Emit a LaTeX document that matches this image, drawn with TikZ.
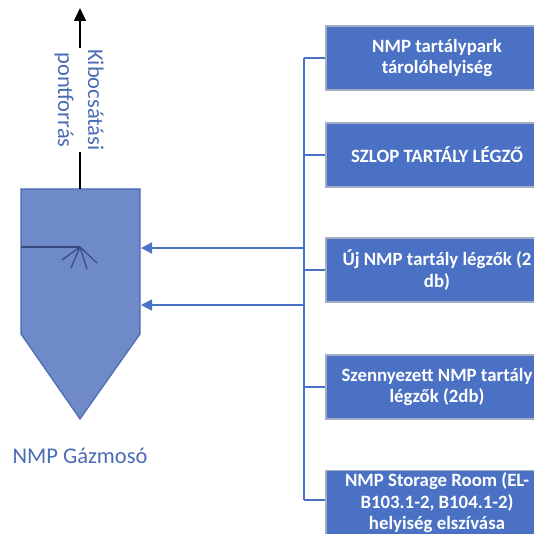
\documentclass[tikz,border=0pt]{standalone}
\usepackage{fontspec}
\setmainfont{Carlito}
\usetikzlibrary{arrows.meta}

\definecolor{boxblue}{HTML}{4A71C4}
\definecolor{boxrim}{HTML}{A3ADC4}
\definecolor{vesselblue}{HTML}{6F8AC9}
\definecolor{vesselrim}{HTML}{4D6AB3}
\definecolor{lineblue}{HTML}{4A72C6}
\definecolor{textblue}{HTML}{4A6BB5}

\begin{document}
\begin{tikzpicture}[
  x=1pt, y=-1pt,
  src/.style={
    rectangle, draw=boxrim, fill=boxblue,
    line width=1.2pt,
    text=white, align=center,
    font=\bfseries\fontsize{18.8}{21.5}\selectfont,
    minimum width=222pt, minimum height=64pt,
    inner sep=2pt
  },
  bus/.style={draw=lineblue, line width=1.6pt},
  inlet/.style={bus, -{Triangle[length=11pt,width=11pt]}},
  lbl/.style={text=textblue, font=\fontsize{22.5}{30}\selectfont, align=center}
]
\useasboundingbox (0,0) rectangle (533,534);

% --- source boxes (right column) ---
\node[src] (tank)  at (437,58)  {NMP tartálypark\\tárolóhelyiség};
\node[src] (slop)  at (437,155) {SZLOP TARTÁLY LÉGZŐ};
\node[src] (new)   at (437,270) {Új NMP tartály légzők (2\\db)};
\node[src] (dirty) at (437,387) {Szennyezett NMP tartály\\légzők (2db)};
\node[src, minimum height=64pt, anchor=north] (room) at (437,470)
  {NMP Storage Room (EL-\\B103.1-2, B104.1-2)\\helyiség elszívása};

% --- collector line ---
\coordinate (bTank)  at (304,58);
\coordinate (bRoom)  at (304,500);
\draw[bus] (bTank) -- (bRoom);
\draw[bus] (bTank) -- (tank.west);
\draw[bus] (304,155) -- (slop.west);
\draw[bus] (304,270) -- (new.west);
\draw[bus] (304,387) -- (dirty.west);
\draw[bus] (bRoom) -- (room.west |- bRoom);

% --- scrubber ---
\draw[fill=vesselblue, draw=vesselrim, line width=1.2pt]
  (21,189) -- (140,189) -- (140,334) -- (80,419) -- (21,334) -- cycle;
\coordinate (vTop) at (80,189);
\coordinate (in1) at (141,248);
\coordinate (in2) at (141,305);
\draw[vesselrim!70!black, line width=1.2pt] (21,247) -- (80,247);
\foreach \e in {(62,260),(71,268),(87,269),(97,263)}
  \draw[vesselrim!70!black, line width=1.2pt] (80,247) -- \e;
\node[lbl] (scrub) at (80,456) {NMP Gázmosó};

% --- inlets ---
\draw[inlet] (304,248) -- (in1);
\draw[inlet] (304,305) -- (in2);

% --- stack ---
\node[lbl, rotate=-90, inner sep=0pt, minimum width=104pt] (emis) at (79,100)
  {Kibocsátási\\pontforrás};
\coordinate (stackTip) at (80,8);
\draw[black, line width=1.6pt] (vTop) -- (80,152);
\draw[black, line width=1.6pt, -{Triangle[length=13pt,width=12pt]}] (80,48) -- (stackTip);

\end{tikzpicture}
\end{document}
